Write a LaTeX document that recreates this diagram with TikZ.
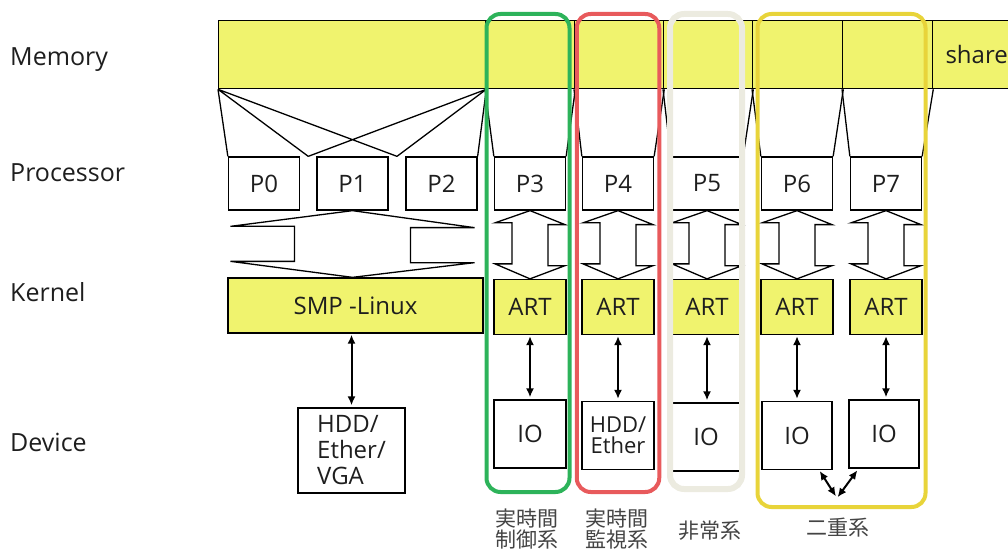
\documentclass[tikz,border=0pt]{standalone}
\usepackage{fontspec}
\setmainfont{Open Sans}
\newfontfamily\cjkfont{Noto Sans CJK JP}
\usetikzlibrary{arrows.meta, positioning, calc}
\definecolor{memFill}{HTML}{F0F36E}
\definecolor{textDark}{HTML}{1E1E1E}
\definecolor{textGray}{HTML}{444444}
\definecolor{frameGreen}{HTML}{2DB35A}
\definecolor{frameRed}{HTML}{E85A5C}
\definecolor{framePale}{HTML}{ECEBE0}
\definecolor{frameYellow}{HTML}{E8D43A}

\begin{document}
\begin{tikzpicture}[x=1pt, y=-1pt,
    box/.style={draw, line width=1.3pt, inner sep=0pt, text=textDark,
                font=\fontsize{24}{26}\selectfont},
    membox/.style={box, fill=memFill, minimum height=68pt, anchor=north west},
    procbox/.style={box, fill=white, minimum width=71pt, minimum height=53pt},
    artbox/.style={box, fill=memFill, minimum width=72pt, minimum height=55pt},
    iobox/.style={box, minimum width=72pt, minimum height=68pt},
    blockarr/.style={draw, line width=1.3pt, fill=white},
    dbl/.style={{Latex[length=9pt,width=8pt]}-{Latex[length=9pt,width=8pt]},
                line width=2pt, shorten <=1pt, shorten >=2pt},
    frame/.style={draw=#1, line width=4pt, rounded corners=14pt, inner sep=0pt},
    rowlabel/.style={font=\fontsize{25}{28}\selectfont, text=textDark,
                     anchor=west, inner sep=0pt},
    grouplabel/.style={font=\cjkfont\fontsize{21}{21}\selectfont, text=textGray,
                       align=center, inner sep=0pt}
  ]
    \useasboundingbox (0,0) rectangle (1008,553);

    % row names
    \node[rowlabel] (lmem) at (10,60) {Memory};
    \node[rowlabel] (lproc) at (10,173) {Processor};
    \node[rowlabel] (lkern) at (10,292) {Kernel};
    \node[rowlabel] (ldev) at (10,442) {Device};

    % memory
    \foreach \nm/\xa/\xb in {m0/218/485, m3/485/574, m4/574/663, m5/663/752,
                             m6/752/842, m7/842/932}
      \node[membox, minimum width=\xb-\xa] (\nm) at (\xa,20) {};
    \node[membox, minimum width=88] (ms) at (932,20) {share};

    % processors
    \foreach \i/\x in {0/264, 1/352.5, 2/441.5, 3/530, 4/618, 5/707, 6/797, 7/886}
      \node[procbox] (p\i) at (\x,183.5) {P\i};

    % kernels
    \node[artbox, minimum width=255pt] (smp) at (355.5,305.5) {SMP -Linux};
    \foreach \i/\x in {3/530, 4/618, 5/707, 6/797, 7/886}
      \node[artbox] (a\i) at (\x,307) {ART};

    % devices
    \node[iobox, minimum width=107pt, minimum height=85pt, align=left] (dev0)
      at (351.5,450.5) {HDD/\\Ether/\\VGA};
    \node[iobox] (io3) at (530,434) {IO};
    \node[iobox, align=center, font=\fontsize{22}{21}\selectfont] (io4)
      at (618,435.5) {HDD/\\Ether};
    \node[iobox] (io5) at (706,437) {IO};
    \node[iobox, minimum width=70pt] (io6) at (797,435.5) {IO};
    \node[iobox, minimum width=70pt] (io7) at (884,434) {IO};

    % memory to processors
    \coordinate (g01) at ($(p0.north east)!0.5!(p1.north west)$);
    \coordinate (g12) at ($(p1.north east)!0.5!(p2.north west)$);
    \draw[line width=1.3pt] (m0.south west) -- (p0.north west)
      (m0.south west) -- (g01) (m0.south west) -- (g12)
      (m0.south east) -- (p2.north east)
      (m0.south east) -- (g12) (m0.south east) -- (g01);
    \foreach \i in {3,...,7}
      \draw[line width=1.3pt] (m\i.south west) -- (p\i.north west)
        (m\i.south east) -- (p\i.north east);

    % processors to kernels
    \draw[blockarr] (p1.south) -- ++(122,17) -- ++(-64,0) -- ++(0,35)
      -- ++(64,0) -- (p1.south |- smp.north) -- ++(-122,-16) -- ++(64,0)
      -- ++(0,-35) -- ++(-64,0) -- cycle;
    \foreach \i in {3,...,7}
      \draw[blockarr] (p\i.south) -- ++(35,14) -- ++(-17,0) -- ++(0,41)
        -- ++(17,0) -- (p\i.south |- a\i.north) -- ++(-35,-15) -- ++(17,0)
        -- ++(0,-41) -- ++(-17,0) -- cycle;

    % kernels to devices
    \draw[dbl] (dev0.north |- smp.south) -- (dev0.north);
    \foreach \i in {3,...,7}
      \draw[dbl] (a\i.south) -- (a\i.south |- io\i.north);
    \coordinate (dup) at (837,498);
    \draw[dbl] (io6) -- (dup);
    \draw[dbl] (dup) -- (io7);

    % groups
    \node[frame=frameGreen, minimum width=83pt, minimum height=478pt] (fr3)
      at (528,253) {};
    \node[frame=frameRed, minimum width=82.5pt, minimum height=478pt] (fr4)
      at (618,253) {};
    \node[frame=framePale, line width=6pt, minimum width=72pt,
          minimum height=475pt] (fr5) at (706,251.5) {};
    \node[frame=frameYellow, minimum width=168pt, minimum height=493pt] (fr67)
      at (841.5,260.5) {};

    \node[grouplabel, below=15pt of fr3, xshift=-1pt] (lctl) {実時間\\制御系};
    \node[grouplabel, below=15pt of fr4, xshift=-1pt] (lmon) {実時間\\監視系};
    \node[grouplabel, below=29pt of fr5, xshift=4pt] (lemg) {非常系};
    \node[grouplabel, below=9pt of fr67, xshift=-4pt] (ldup) {二重系};
  \end{tikzpicture}
\end{document}
